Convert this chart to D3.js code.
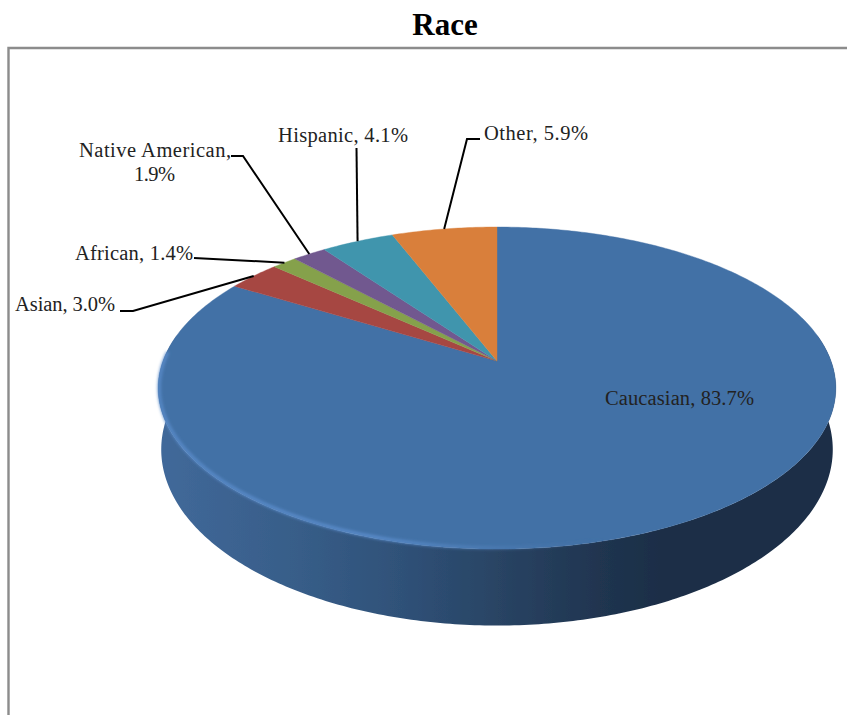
<!DOCTYPE html>
<html><head><meta charset="utf-8">
<script src="https://cdn.jsdelivr.net/npm/d3@7"></script>
<style>html,body{margin:0;padding:0;background:#fff}svg{display:block}text{font-family:"Liberation Serif",serif;fill:#222}</style>
</head><body><svg id="c" width="847" height="715"></svg>
<script>
const categories=["Caucasian","Asian","African","Native American","Hispanic","Other"];
const shares=[83.7,3.0,1.4,1.9,4.1,5.9];
const sliceColors=["#4371a6","#a64643","#85a14c","#71588f","#4095ad","#d97f3a"];
const titleText="Race";
const labelLayout=[
 {lines:[["Caucasian, 83.7%",605,405,149]],leader:null},
 {lines:[["Asian, 3.0%",15,311,100]],leader:[[120,311],[133,311]]},
 {lines:[["African, 1.4%",75,260,118]],leader:[[194,258]]},
 {lines:[["Native American,",79,157,152],["1.9%",134,181,41]],leader:[[231,156],[243,156]]},
 {lines:[["Hispanic, 4.1%",278,142,130]],leader:[[356.5,148]]},
 {lines:[["Other, 5.9%",484,140,104]],leader:[[480,139],[467,139]]}
];
const svg=d3.select("#c");
const defs=svg.append("defs");
const blur=defs.append("filter").attr("id","soft").attr("x","-5%").attr("y","-5%").attr("width","110%").attr("height","110%");
blur.append("feGaussianBlur").attr("stdDeviation",0.7);
const blur2=defs.append("filter").attr("id","soft2").attr("x","-5%").attr("y","-5%").attr("width","110%").attr("height","110%");
blur2.append("feGaussianBlur").attr("stdDeviation",1.4);
const g=defs.append("linearGradient").attr("id","side").attr("gradientUnits","userSpaceOnUse").attr("x1",158).attr("x2",836).attr("y1",0).attr("y2",0);
[[0,"#41699a"],[.21,"#375d88"],[.36,"#2f5178"],[.5,"#294464"],[.65,"#203550"],[.74,"#1b2e47"],[1,"#1b2e47"]].forEach(s=>g.append("stop").attr("offset",s[0]).attr("stop-color",s[1]));
const rg=defs.append("linearGradient").attr("id","rim").attr("gradientUnits","userSpaceOnUse").attr("x1",158).attr("x2",836).attr("y1",0).attr("y2",0);
[[0,"#5a8ccb",.9],[.33,"#5a8ccb",1],[.5,"#5585c0",.45],[.66,"#4a78ad",0],[1,"#4371a6",0]].forEach(s=>rg.append("stop").attr("offset",s[0]).attr("stop-color",s[1]).attr("stop-opacity",s[2]));

// perspective projection of the pie disc; angle 0 = top, clockwise
const k=0.168;
const proj=(a,R,S,cy,cx=497)=>{const u=Math.sin(a),v=-Math.cos(a),w=1-k*v;return [cx+R*u/w,cy+S*v/w];};
const topRim=a=>proj(a,334,156.5,361);
const lowRim=a=>proj(a,331,171,420);
const innerRim=a=>proj(a,333,155.5,361);
const line=d3.line();
const arcs=d3.pie().sort(null).startAngle(0).endAngle(2*Math.PI)(shares);
const sample=(f,a0,a1,n=Math.max(4,Math.ceil(Math.abs(a1-a0)*80)))=>d3.range(n+1).map(i=>f(a0+(a1-a0)*i/n));

// side wall: front part between the two silhouette points
const aR=Math.acos(k), aL=2*Math.PI-aR;
const sidePts=[...sample(topRim,aR,aL),...sample(lowRim,aL,aR)];
const pieG=svg.append("g").attr("filter","url(#soft)");
pieG.append("path").attr("d",line(sidePts)+"Z").attr("fill","url(#side)");
// top face
pieG.selectAll("path.slice").data(arcs).join("path").attr("class","slice")
 .attr("d",d=>line([[497,361],...sample(topRim,d.startAngle,d.endAngle)])+"Z")
 .attr("fill",(d,i)=>sliceColors[i]).attr("stroke",(d,i)=>sliceColors[i]).attr("stroke-width",0.4);
// lit bevel along the front edge
svg.append("path").attr("d",line(sample(innerRim,aL-0.12,aR+0.45)))
 .attr("fill","none").attr("stroke","url(#rim)").attr("stroke-width",3.2).attr("stroke-linecap","round").attr("filter","url(#soft2)");

// frame
svg.append("path").attr("d","M8.5,715V48H847").attr("fill","none").attr("stroke","#8c8c8c").attr("stroke-width",2.4);
// title
svg.append("text").attr("x",445).attr("y",35).attr("text-anchor","middle").attr("font-size",31).attr("font-weight","bold").style("fill","#000").text(titleText);
// labels + leaders
labelLayout.forEach((l,i)=>{
  const mid=(arcs[i].startAngle+arcs[i].endAngle)/2;
  if(l.leader){
    svg.append("path").attr("d",line([...l.leader,topRim(mid)])).attr("fill","none").attr("stroke","#000").attr("stroke-width",2);
  }
  l.lines.forEach(t=>svg.append("text").attr("x",t[1]).attr("y",t[2]).attr("font-size",20.5).attr("textLength",t[3]).attr("lengthAdjust","spacing").text(t[0]));
});
</script></body></html>
